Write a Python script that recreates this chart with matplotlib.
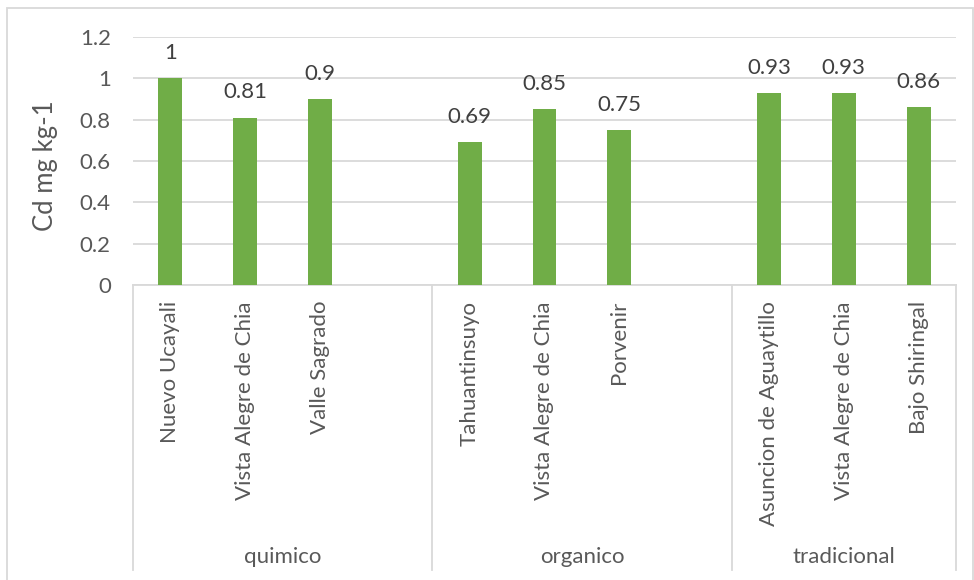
import matplotlib
matplotlib.use("Agg")
import matplotlib.pyplot as plt
from matplotlib.patches import Rectangle
import matplotlib.transforms as mtransforms

plt.rcParams['font.family'] = ['Lato', 'DejaVu Sans']

groups = ["quimico", "organico", "tradicional"]
categories = [
    ["Nuevo Ucayali", "Vista Alegre de Chia", "Valle Sagrado"],
    ["Tahuantinsuyo", "Vista Alegre de Chia", "Porvenir"],
    ["Asuncion de Aguaytillo", "Vista Alegre de Chia", "Bajo Shiringal"],
]
values = [
    [1.0, 0.81, 0.9],
    [0.69, 0.85, 0.75],
    [0.93, 0.93, 0.86],
]
value_labels = [["1", "0.81", "0.9"], ["0.69", "0.85", "0.75"], ["0.93", "0.93", "0.86"]]
y_ticks = [0, 0.2, 0.4, 0.6, 0.8, 1.0, 1.2]
y_ticklabels = ["0", "0.2", "0.4", "0.6", "0.8", "1", "1.2"]
y_label = "Cd mg kg-1"

W, H = 974, 580
fig = plt.figure(figsize=(W / 100, H / 100), dpi=100)

left, right, top, bottom = 133, 956, 37, 285
ax = fig.add_axes([left / W, (H - bottom) / H, (right - left) / W, (bottom - top) / H])

green = "#70AD47"
txt = "#595959"
grid = "#D9D9D9"
FS = 16

positions = []
pos = 0
group_bounds = []
for gi, cats in enumerate(categories):
    start = pos
    gp = []
    for c in cats:
        gp.append(pos)
        pos += 1
    positions.append(gp)
    if gi < len(categories) - 1:
        pos += 1
    group_bounds.append((start - 0.5, pos - 0.5))
n_slots = pos

for gp, vals, labs in zip(positions, values, value_labels):
    ax.bar(gp, vals, width=0.32, color=green, zorder=3)
    for x, v, l in zip(gp, vals, labs):
        ax.annotate(l, (x, v), xytext=(0, 11), textcoords="offset points",
                    ha="center", va="bottom", fontsize=FS, color="#404040")

ax.set_xlim(-0.5, n_slots - 0.5)
ax.set_ylim(0, 1.2)
ax.set_yticks(y_ticks)
ax.set_yticklabels(y_ticklabels, fontsize=FS, color=txt)
ax.yaxis.grid(True, color=grid, linewidth=1.3, zorder=0)
ax.set_axisbelow(True)
for s in ["top", "right", "left"]:
    ax.spines[s].set_visible(False)
ax.spines["bottom"].set_color(grid)
ax.spines["bottom"].set_linewidth(1.3)
ax.tick_params(axis="y", length=0, pad=16)
ax.tick_params(axis="x", length=0)
ax.set_xticks([])
ax.set_ylabel(y_label, fontsize=18.5, color=txt)
ax.yaxis.set_label_coords((58 - left) / (right - left), 0.48)

trans = mtransforms.blended_transform_factory(ax.transData, ax.transAxes)
ax_h = bottom - top
sep_bottom = -(570 - bottom) / ax_h
cat_top = -(301 - bottom) / ax_h
grp_y = -(557 - bottom) / ax_h

sep_x = [group_bounds[0][0]] + [gb[0] for gb in group_bounds[1:]] + [n_slots - 0.5]
for x in sep_x:
    ax.plot([x, x], [0, sep_bottom], transform=trans, color=grid, lw=1.3, clip_on=False)

for gi, (gp, cats) in enumerate(zip(positions, categories)):
    for x, c in zip(gp, cats):
        ax.text(x, cat_top, c, transform=trans, rotation=90, ha="center", va="top",
                fontsize=FS, color=txt)
    g0 = sep_x[gi]
    g1 = sep_x[gi + 1]
    ax.text((g0 + g1) / 2, grp_y, groups[gi], transform=trans, ha="center", va="center",
            fontsize=FS, color=txt)

fig.patches.append(Rectangle((7 / W, -0.1), (973 - 7) / W, (H - 8) / H + 0.1,
                             transform=fig.transFigure, fill=False, edgecolor=grid, lw=1.3))

fig.savefig("out.png", dpi=100)
